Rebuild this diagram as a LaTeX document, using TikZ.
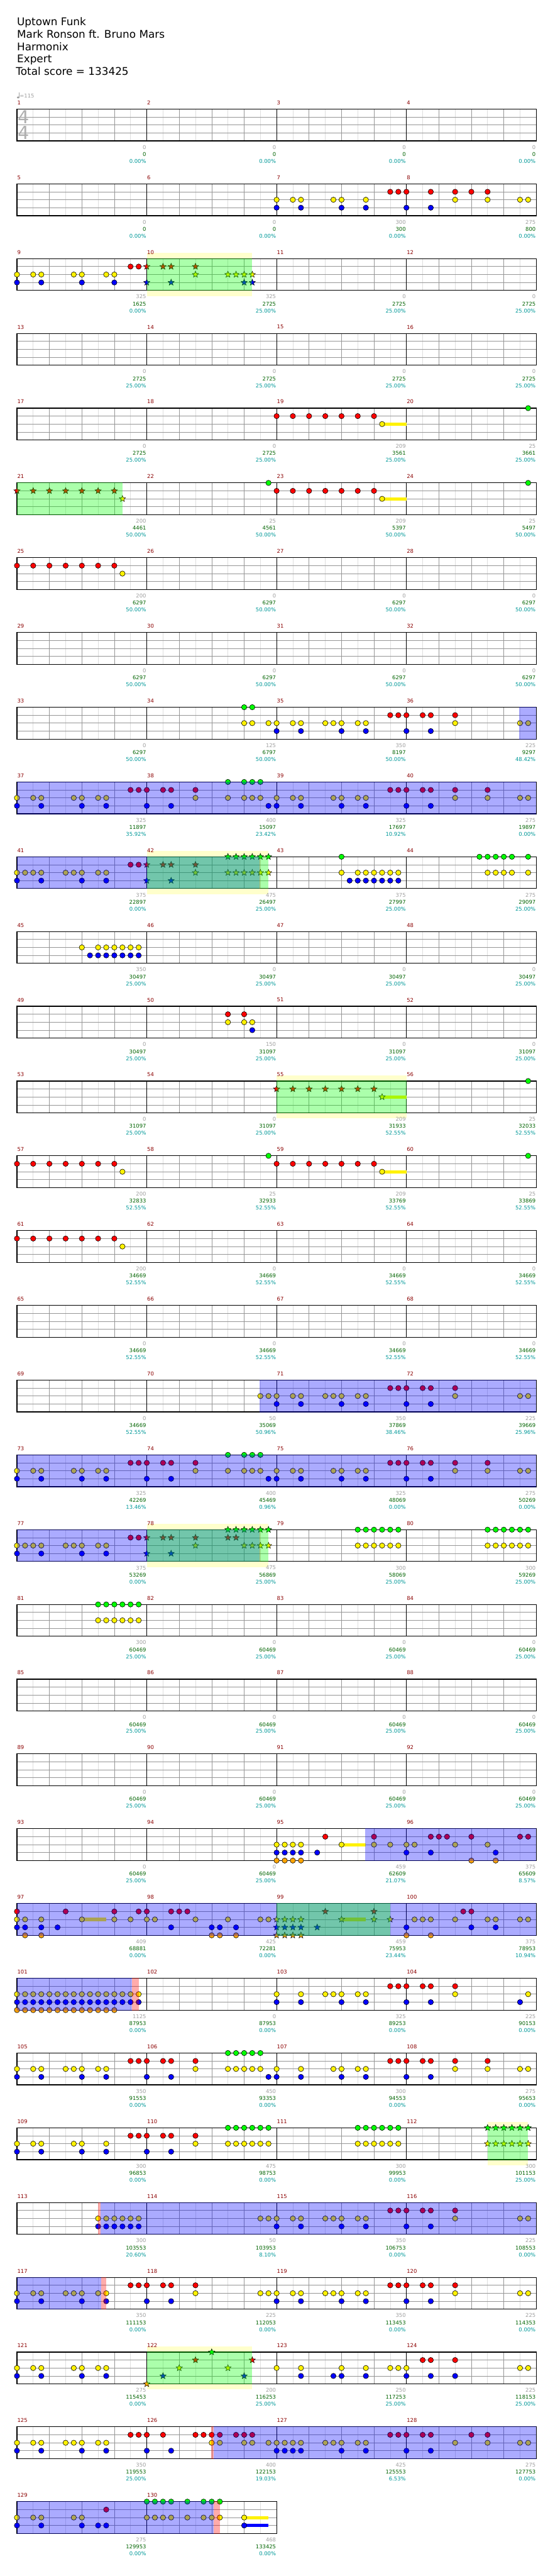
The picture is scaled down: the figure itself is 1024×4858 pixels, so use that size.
\documentclass[tikz,border=0pt]{standalone}
\usepackage{fontspec}
\setmainfont{DejaVu Sans}
\usetikzlibrary{shapes.geometric}
\definecolor{mred}{RGB}{139,0,0}
\definecolor{cgray}{RGB}{160,160,160}
\definecolor{cgreen}{RGB}{0,100,0}
\definecolor{ccyan}{RGB}{0,153,153}
\definecolor{gridl}{RGB}{222,222,222}
\definecolor{gridd}{RGB}{150,150,150}
\definecolor{extyel}{RGB}{255,255,204}
\definecolor{nor}{RGB}{255,165,0}
\definecolor{tsg}{RGB}{175,175,175}
\tikzset{
  nt/.style={draw=black, line width=0.7pt},
  starnote/.style={star, star points=5, star point ratio=2.3, minimum size=12.5pt, inner sep=0pt, draw=black, line width=0.6pt},
  mnum/.style={text=mred, font=\fontsize{10}{12}\selectfont, anchor=west, inner sep=0pt},
  tgray/.style={text=cgray, font=\fontsize{10}{12}\selectfont, anchor=east, inner sep=0pt},
  tgreen/.style={text=cgreen, font=\fontsize{10}{12}\selectfont, anchor=east, inner sep=0pt},
  tcyan/.style={text=ccyan, font=\fontsize{10}{12}\selectfont, anchor=east, inner sep=0pt},
  titletxt/.style={text=black, font=\fontsize{20}{24}\selectfont, anchor=base west, inner sep=0pt},
  tsig/.style={text=tsg, font=\fontsize{34}{40}\selectfont, inner sep=0pt},
}
% staff: row, first measure, number of measures
\newcommand\staff[3]{%
  \pgfmathsetmacro\rT{205.7+141*#1}%
  \pgfmathsetmacro\rW{245*#3}%
  \pgfmathtruncatemacro\nE{8*#3-1}%
  \pgfmathtruncatemacro\nB{4*#3-1}%
  \pgfmathtruncatemacro\nM{#3-1}%
  \fill[white] (32,\rT) rectangle ++(\rW,60);
  \foreach \j in {1,...,\nE} \draw[gridl, line width=0.8pt] ({32+30.625*\j},\rT) -- ++(0,60);
  \foreach \j in {1,2,3} \draw[gridd, line width=0.9pt] (32,{\rT+15*\j}) -- ++(\rW,0);
  \foreach \j in {1,...,\nB} \draw[gridd, line width=0.8pt] ({32+61.25*\j},\rT) -- ++(0,60);
  \foreach \j in {1,...,\nM} \draw[black, line width=0.8pt] ({32+245*\j},\rT) -- ++(0,60);
  \draw[black, line width=1.4pt] (32,\rT) rectangle ++(\rW,60);
  \foreach \j in {1,...,#3} {\pgfmathtruncatemacro\mm{#2+\j-1}
    \node[mnum] (mn-\mm) at ({32+245*(\j-1)+0.5},{\rT-12}) {\mm};}
}
\newcommand\nt[4]{\foreach \k in {#4}{\filldraw[nt, fill=#3] ({32+15.3125*\k},{205.7+141*#1+#2}) circle (5);}}
\newcommand\stn[4]{\foreach \k in {#4}{\node[starnote, fill=#3] (s#1-#2-\k) at ({32+15.3125*\k},{205.7+141*#1+#2}) {};}}
\newcommand\sus[5]{\fill[#3] ({32+15.3125*#4},{205.7+141*#1+#2-3}) rectangle ({32+15.3125*#5},{205.7+141*#1+#2+3});}
\newcommand\ob[3]{\fill[blue, fill opacity=0.33] ({#2},{205.7+141*#1-0.7}) rectangle ({#3},{205.7+141*#1+60.7});}
\newcommand\op[3]{\fill[red, fill opacity=0.33] ({#2},{205.7+141*#1-0.7}) rectangle ({#3},{205.7+141*#1+60.7});}
\newcommand\og[3]{\fill[green, fill opacity=0.33] ({32+15.3125*#2},{205.7+141*#1-0.7}) rectangle ({32+15.3125*#3},{205.7+141*#1+60.7});}
\newcommand\ext[3]{\fill[extyel] ({32+15.3125*#2},{205.7+141*#1-10.5}) rectangle ({32+15.3125*#3},{205.7+141*#1+70.5});}
\newcommand\scores[2]{\pgfmathsetmacro\rT{205.7+141*#1}\foreach \i/\a/\b/\c in {#2}{%
  \node[tgray] (ga-#1-\i) at ({32+245*\i-1},{\rT+72}) {\a};
  \node[tgreen] (gb-#1-\i) at ({32+245*\i-1},{\rT+85.3}) {\b};
  \node[tcyan] (gc-#1-\i) at ({32+245*\i-1},{\rT+98.3}) {\c\%};}}

\begin{document}
\begin{tikzpicture}[x=1pt,y=-1pt]
\useasboundingbox (0,0) rectangle (1024,4858);
\fill[white] (0,0) rectangle (1024,4858);
% title
\node[titletxt] (t1) at (32,48.5) {Uptown Funk};
\node[titletxt] (t2) at (32,71.75) {Mark Ronson ft. Bruno Mars};
\node[titletxt] (t3) at (32,95) {Harmonix};
\node[titletxt] (t4) at (32,118.25) {Expert};
\node[titletxt] (t5) at (30,141.5) {Total score = 133425};
% tempo
\fill[cgray] (34.3,183.8) ellipse (2.4 and 1.8);
\draw[cgray, line width=0.8pt] (36.4,183.5) -- (36.4,174.3);
\node[tgray, anchor=west] (tempo) at (37,181) {=115};

% Row 0
\staff{0}{1}{4}
\node[tsig] (ts1) at (44.7,220.7) {4};
\node[tsig] (ts2) at (44.7,250.7) {4};
\scores{0}{1/0/0/0.00,2/0/0/0.00,3/0/0/0.00,4/0/0/0.00}

% Row 1
\staff{1}{5}{4}
\nt{1}{15}{red}{46,47,48,51,54,56,58}
\nt{1}{30}{yellow}{32,34,35,39,40,43,54,58,62,63}
\nt{1}{45}{blue}{32,35,40,43,48,51}
\scores{1}{1/0/0/0.00,2/0/0/0.00,3/300/300/0.00,4/275/800/0.00}

% Row 2
\ext{2}{16}{29}
\staff{2}{9}{4}
\nt{2}{15}{red}{14,15}
\stn{2}{15}{red}{16,18,19,22}
\nt{2}{30}{yellow}{0,2,3,7,8,11,12}
\stn{2}{30}{yellow}{22,26,27,28,29}
\nt{2}{45}{blue}{0,3,8,12}
\stn{2}{45}{blue}{16,19,28,29}
\og{2}{16}{29}
\scores{2}{1/325/1625/0.00,2/325/2725/25.00,3/0/2725/25.00,4/0/2725/25.00}

% Row 3
\staff{3}{13}{4}
\scores{3}{1/0/2725/25.00,2/0/2725/25.00,3/0/2725/25.00,4/0/2725/25.00}

% Row 4
\staff{4}{17}{4}
\sus{4}{30}{yellow}{45}{48}
\nt{4}{15}{red}{32,34,36,38,40,42,44}
\nt{4}{30}{yellow}{45}
\nt{4}{0}{green}{63}
\scores{4}{1/0/2725/25.00,2/0/2725/25.00,3/209/3561/25.00,4/25/3661/25.00}

% Row 5
\staff{5}{21}{4}
\stn{5}{15}{red}{0,2,4,6,8,10,12}
\stn{5}{30}{yellow}{13}
\nt{5}{0}{green}{31,63}
\nt{5}{15}{red}{32,34,36,38,40,42,44}
\sus{5}{30}{yellow}{45}{48}
\nt{5}{30}{yellow}{45}
\og{5}{0}{13}
\scores{5}{1/200/4461/50.00,2/25/4561/50.00,3/209/5397/50.00,4/25/5497/50.00}

% Row 6
\staff{6}{25}{4}
\nt{6}{15}{red}{0,2,4,6,8,10,12}
\nt{6}{30}{yellow}{13}
\scores{6}{1/200/6297/50.00,2/0/6297/50.00,3/0/6297/50.00,4/0/6297/50.00}

% Row 7
\staff{7}{29}{4}
\scores{7}{1/0/6297/50.00,2/0/6297/50.00,3/0/6297/50.00,4/0/6297/50.00}

% Row 8
\staff{8}{33}{4}
\nt{8}{0}{green}{28,29}
\nt{8}{15}{red}{46,47,48,50,51,54}
\nt{8}{30}{yellow}{28,29,31,32,34,35,38,39,40,42,43,54,62,63}
\nt{8}{45}{blue}{32,35,40,43,48,51}
\ob{8}{32+15.3125*62-1.4}{1012}
\scores{8}{1/0/6297/50.00,2/125/6797/50.00,3/350/8197/50.00,4/225/9297/48.42}

% Row 9
\staff{9}{37}{4}
\nt{9}{0}{green}{26,28,29,30}
\nt{9}{15}{red}{14,15,16,18,19,22,46,47,48,50,51,54,58}
\nt{9}{30}{yellow}{0,2,3,7,8,10,11,22,26,28,29,30,32,34,35,39,40,42,43,54,58,62,63}
\nt{9}{45}{blue}{0,3,8,11,16,19,31,32,35,40,43,48,51}
\ob{9}{32}{1012}
\scores{9}{1/325/11897/35.92,2/400/15097/23.42,3/325/17697/10.92,4/275/19897/0.00}

% Row 10
\ext{10}{16}{31}
\staff{10}{41}{4}
\stn{10}{0}{green}{26,27,28,29,30,31}
\nt{10}{15}{red}{14,15}
\stn{10}{15}{red}{16,18,19,22}
\nt{10}{30}{yellow}{0,1,2,3,6,7,8,10,11}
\stn{10}{30}{yellow}{22,26,27,28,29,30,31}
\nt{10}{45}{blue}{0,3,8,11}
\stn{10}{45}{blue}{16,19}
\nt{10}{0}{green}{40,57,58,59,60,61,63}
\nt{10}{30}{yellow}{40,42,43,44,45,46,47,58,59,60,61,63}
\nt{10}{45}{blue}{41,42,43,44,45,46,47}
\ob{10}{32}{32+15.3125*30-1.5}
\op{10}{32+15.3125*30-1.5}{32+15.3125*30}
\og{10}{16}{31}
\scores{10}{1/375/22897/0.00,2/475/26497/25.00,3/375/27997/25.00,4/275/29097/25.00}

% Row 11
\staff{11}{45}{4}
\nt{11}{30}{yellow}{8,10,11,12,13,14,15}
\nt{11}{45}{blue}{9,10,11,12,13,14,15}
\scores{11}{1/350/30497/25.00,2/0/30497/25.00,3/0/30497/25.00,4/0/30497/25.00}

% Row 12
\staff{12}{49}{4}
\nt{12}{15}{red}{26,28}
\nt{12}{30}{yellow}{26,28,29}
\nt{12}{45}{blue}{29}
\scores{12}{1/0/30497/25.00,2/150/31097/25.00,3/0/31097/25.00,4/0/31097/25.00}

% Row 13
\ext{13}{32}{48}
\staff{13}{53}{4}
\stn{13}{15}{red}{32,34,36,38,40,42,44}
\sus{13}{30}{yellow}{45}{48}
\stn{13}{30}{yellow}{45}
\nt{13}{0}{green}{63}
\og{13}{32}{48}
\scores{13}{1/0/31097/25.00,2/0/31097/25.00,3/209/31933/52.55,4/25/32033/52.55}

% Row 14
\staff{14}{57}{4}
\nt{14}{15}{red}{0,2,4,6,8,10,12,32,34,36,38,40,42,44}
\nt{14}{30}{yellow}{13}
\nt{14}{0}{green}{31,63}
\sus{14}{30}{yellow}{45}{48}
\nt{14}{30}{yellow}{45}
\scores{14}{1/200/32833/52.55,2/25/32933/52.55,3/209/33769/52.55,4/25/33869/52.55}

% Row 15
\staff{15}{61}{4}
\nt{15}{15}{red}{0,2,4,6,8,10,12}
\nt{15}{30}{yellow}{13}
\scores{15}{1/200/34669/52.55,2/0/34669/52.55,3/0/34669/52.55,4/0/34669/52.55}

% Row 16
\staff{16}{65}{4}
\scores{16}{1/0/34669/52.55,2/0/34669/52.55,3/0/34669/52.55,4/0/34669/52.55}

% Row 17
\staff{17}{69}{4}
\nt{17}{15}{red}{46,47,48,50,51,54}
\nt{17}{30}{yellow}{30,31,32,34,35,38,39,40,42,43,54,62,63}
\nt{17}{45}{blue}{32,35,40,43,48,51}
\ob{17}{32+15.3125*30-1.4}{1012}
\scores{17}{1/0/34669/52.55,2/50/35069/50.96,3/350/37869/38.46,4/225/39669/25.96}

% Row 18
\staff{18}{73}{4}
\nt{18}{0}{green}{26,28,29,30}
\nt{18}{15}{red}{14,15,16,18,19,22,46,47,48,50,51,54,58}
\nt{18}{30}{yellow}{0,2,3,7,8,10,11,22,26,28,29,30,32,34,35,39,40,42,43,54,58,62,63}
\nt{18}{45}{blue}{0,3,8,11,16,19,31,32,35,40,43,48,51}
\ob{18}{32}{1012}
\scores{18}{1/325/42269/13.46,2/400/45469/0.96,3/325/48069/0.00,4/275/50269/0.00}

% Row 19
\ext{19}{16}{31}
\staff{19}{77}{4}
\stn{19}{0}{green}{26,27,28,29,30,31}
\nt{19}{15}{red}{14,15}
\stn{19}{15}{red}{16,18,19,22,26,27}
\nt{19}{30}{yellow}{0,1,2,3,6,7,8,10,11}
\stn{19}{30}{yellow}{22,28,29,30,31}
\nt{19}{45}{blue}{0,3,8,11}
\stn{19}{45}{blue}{16,19}
\nt{19}{0}{green}{42,43,44,45,46,47,58,59,60,61,62,63}
\nt{19}{30}{yellow}{42,43,44,45,46,47,58,59,60,61,62,63}
\ob{19}{32}{32+15.3125*30-1.5}
\op{19}{32+15.3125*30-1.5}{32+15.3125*30}
\og{19}{16}{31}
\scores{19}{1/375/53269/0.00,2/475/56869/25.00,3/300/58069/25.00,4/300/59269/25.00}

% Row 20
\staff{20}{81}{4}
\nt{20}{0}{green}{10,11,12,13,14,15}
\nt{20}{30}{yellow}{10,11,12,13,14,15}
\scores{20}{1/300/60469/25.00,2/0/60469/25.00,3/0/60469/25.00,4/0/60469/25.00}

% Row 21
\staff{21}{85}{4}
\scores{21}{1/0/60469/25.00,2/0/60469/25.00,3/0/60469/25.00,4/0/60469/25.00}

% Row 22
\staff{22}{89}{4}
\scores{22}{1/0/60469/25.00,2/0/60469/25.00,3/0/60469/25.00,4/0/60469/25.00}

% Row 23
\staff{23}{93}{4}
\sus{23}{30}{yellow}{40}{43}
\nt{23}{15}{red}{38,44,51,52,53,56,62,63}
\nt{23}{30}{yellow}{32,33,34,35,40,44,46,48,49,54,58}
\nt{23}{45}{blue}{32,33,34,35,37,48,51,59}
\nt{23}{60}{nor}{32,33,34,35,56,59}
\ob{23}{32+15.3125*43-0.8}{1012}
\scores{23}{1/0/60469/25.00,2/0/60469/25.00,3/459/62609/21.07,4/375/65609/8.57}

% Row 24
\staff{24}{97}{4}
\sus{24}{30}{yellow}{8}{11}
\sus{24}{30}{yellow}{40}{43}
\nt{24}{15}{red}{0,6,12,15,16,19,20,21,55,56}
\stn{24}{15}{red}{38,44}
\nt{24}{30}{yellow}{0,1,3,8,12,14,16,17,22,26,30,31,49,50,51,54,58,59,62,63}
\stn{24}{30}{yellow}{32,33,34,35,40,44,46}
\nt{24}{45}{blue}{0,1,3,5,19,24,25,27,48,56,59}
\stn{24}{45}{blue}{32,33,34,35,37}
\nt{24}{60}{nor}{1,3,24,25,27,48,51}
\stn{24}{60}{nor}{32,33,34,35}
\ob{24}{32}{1012}
\og{24}{32}{46}
\scores{24}{1/409/68881/0.00,2/425/72281/0.00,3/459/75953/23.44,4/375/78953/10.94}

% Row 25
\staff{25}{101}{4}
\nt{25}{30}{yellow}{0,...,15}
\nt{25}{45}{blue}{0,...,15}
\nt{25}{60}{nor}{0,...,12}
\nt{25}{15}{red}{46,47,48,50,51,54}
\nt{25}{30}{yellow}{32,35,38,39,40,42,43,54,63}
\nt{25}{45}{blue}{32,35,40,43,48,51,62}
\ob{25}{32}{32+15.3125*15-12.5}
\op{25}{32+15.3125*15-12.5}{32+15.3125*15}
\scores{25}{1/1125/87953/0.00,2/0/87953/0.00,3/325/89253/0.00,4/225/90153/0.00}

% Row 26
\staff{26}{105}{4}
\nt{26}{0}{green}{26,27,28,29,30}
\nt{26}{15}{red}{14,15,16,18,19,22,46,47,48,50,51,54,58}
\nt{26}{30}{yellow}{0,2,3,6,7,8,10,11,22,26,27,28,29,30,32,35,39,40,42,43,54,58,62,63}
\nt{26}{45}{blue}{0,3,8,11,16,19,31,32,35,40,43,48,51}
\scores{26}{1/350/91553/0.00,2/450/93353/0.00,3/300/94553/0.00,4/275/95653/0.00}

% Row 27
\ext{27}{58}{63}
\staff{27}{109}{4}
\nt{27}{0}{green}{26,27,28,29,30,31,42,43,44,45,46,47}
\stn{27}{0}{green}{58,59,60,61,62,63}
\nt{27}{15}{red}{14,15,16,18,19,22}
\nt{27}{30}{yellow}{0,2,3,7,8,11,22,26,27,28,29,30,31,42,43,44,45,46,47}
\stn{27}{30}{yellow}{58,59,60,61,62,63}
\nt{27}{45}{blue}{0,3,8,11,16,19}
\og{27}{58}{63}
\scores{27}{1/300/96853/0.00,2/475/98753/0.00,3/300/99953/0.00,4/300/101153/25.00}

% Row 28
\staff{28}{113}{4}
\nt{28}{15}{red}{46,47,48,50,51,54}
\nt{28}{30}{yellow}{10,11,12,13,14,15,30,31,32,34,35,38,39,40,42,43,54,62,63}
\nt{28}{45}{blue}{10,11,12,13,14,15,32,35,40,43,48,51}
\op{28}{32+15.3125*10}{32+15.3125*10+4.5}
\ob{28}{32+15.3125*10+4.5}{1012}
\scores{28}{1/300/103553/20.60,2/50/103953/8.10,3/350/106753/0.00,4/225/108553/0.00}

% Row 29
\staff{29}{117}{4}
\nt{29}{15}{red}{14,15,16,18,19,22,46,47,48,50,51,54}
\nt{29}{30}{yellow}{0,2,3,6,7,8,10,11,22,30,31,32,34,35,38,39,40,42,43,54,62,63}
\nt{29}{45}{blue}{0,3,8,11,16,19,32,35,40,43,48,51}
\ob{29}{32}{32+15.3125*11-10}
\op{29}{32+15.3125*11-10}{32+15.3125*11}
\scores{29}{1/350/111153/0.00,2/225/112053/0.00,3/350/113453/0.00,4/225/114353/0.00}

% Row 30
\ext{30}{16}{29}
\staff{30}{121}{4}
\nt{30}{15}{red}{50,51,54}
\nt{30}{30}{yellow}{0,2,3,7,8,10,11,32,35,40,43,46,47,48,62,63}
\nt{30}{45}{blue}{0,3,8,11,35,39,40,43,48,51,54}
\stn{30}{60}{nor}{16}
\stn{30}{45}{blue}{18,28}
\stn{30}{30}{yellow}{20,26}
\stn{30}{15}{red}{22,29}
\stn{30}{0}{green}{24}
\og{30}{16}{29}
\scores{30}{1/275/115453/0.00,2/200/116253/25.00,3/250/117253/25.00,4/225/118153/25.00}

% Row 31
\staff{31}{125}{4}
\nt{31}{15}{red}{14,15,16,18,22,23,24,25,27,28,29,46,47,48,50,51,56,58}
\nt{31}{30}{yellow}{0,2,3,6,7,8,10,11,24,25,28,29,31,32,33,34,35,38,39,40,42,43,54,58,62,63}
\nt{31}{45}{blue}{0,3,8,11,16,19,32,33,34,35,40,43,48,51}
\op{31}{32+15.3125*24-0.8}{32+15.3125*24+3.2}
\ob{31}{32+15.3125*24+3.2}{1012}
\scores{31}{1/350/119553/25.00,2/400/122153/19.03,3/425/125553/6.53,4/275/127753/0.00}

% Row 32
\staff{32}{129}{2}
\sus{32}{30}{yellow}{28}{31}
\sus{32}{45}{blue}{28}{31}
\nt{32}{0}{green}{16,17,18,19,21,23,24,25}
\nt{32}{15}{red}{11}
\nt{32}{30}{yellow}{0,2,3,7,8,16,17,18,19,21,23,24,25,28}
\nt{32}{45}{blue}{0,3,8,10,11,28}
\ob{32}{32}{32+15.3125*25-11.5}
\op{32}{32+15.3125*25-11.5}{32+15.3125*25}
\scores{32}{1/275/129953/0.00,2/468/133425/0.00}
\end{tikzpicture}
\end{document}
